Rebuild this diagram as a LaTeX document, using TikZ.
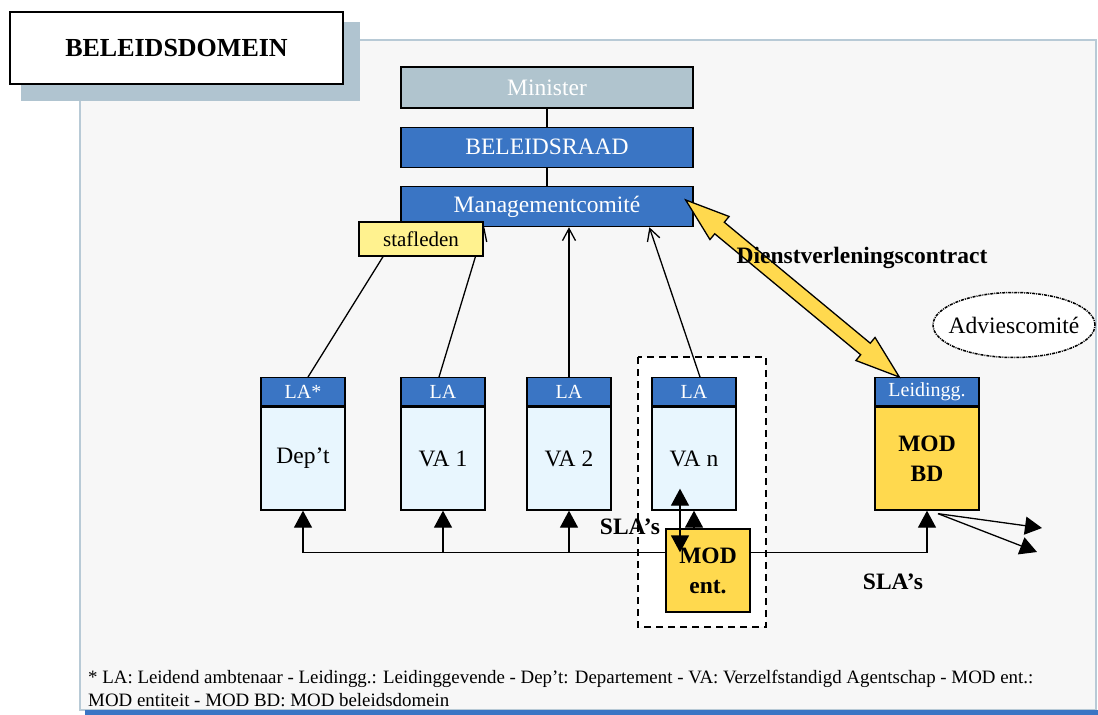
\documentclass[tikz,border=0pt]{standalone}
\usepackage{fontspec}
\setmainfont{Liberation Serif}
\usetikzlibrary{positioning,calc,arrows.meta,shapes.geometric}

\definecolor{boxblue}{HTML}{3A75C4}
\definecolor{mingrey}{HTML}{B0C4CE}
\definecolor{stafyellow}{HTML}{FFF28F}
\definecolor{modyellow}{HTML}{FFD94E}
\definecolor{agencyblue}{HTML}{E8F6FE}
\definecolor{panelgrey}{HTML}{F7F7F7}
\definecolor{panelline}{HTML}{B8CAD6}
\definecolor{shadowgrey}{HTML}{B0C4D0}

\begin{document}
\begin{tikzpicture}[x=1pt, y=-1pt,
bluebox/.style={rectangle, draw=black, line width=1.3pt, fill=boxblue, text=white, minimum width=292pt, minimum height=40pt, font=\fontsize{23.5}{26}\selectfont},
headbox/.style={rectangle, draw=black, line width=1.3pt, fill=boxblue, text=white, minimum width=84pt, minimum height=28pt, inner sep=0pt, font=\fontsize{20}{22}\selectfont},
agbody/.style={rectangle, draw=black, line width=1.3pt, fill=agencyblue, minimum width=84pt, minimum height=103pt, font=\fontsize{23.5}{26}\selectfont},
modbox/.style={rectangle, draw=black, line width=1.3pt, fill=modyellow, align=center, inner sep=0pt, font=\fontsize{23.5}{30}\selectfont\bfseries},
stafbox/.style={rectangle, draw=black, line width=1.3pt, fill=stafyellow, minimum width=124pt, minimum height=34pt, font=\fontsize{21}{24}\selectfont},
boldlabel/.style={font=\fontsize{23.5}{26}\selectfont\bfseries, inner sep=0pt},
notetext/.style={anchor=base west, inner sep=0pt, font=\fontsize{18.9}{23}\selectfont},
openarrow/.style={line width=1.3pt, -{Straight Barb[length=12pt,width=13pt]}},
uparrow/.style={line width=1.3pt, -{Triangle[length=17pt,width=18pt]}},
bothtri/.style={line width=1.3pt, {Triangle[length=17pt,width=18pt]}-{Triangle[length=17pt,width=18pt]}},
]
\useasboundingbox (0,0) rectangle (1098,715);

%Background
\draw[panelline, line width=1.5pt, fill=panelgrey] (80,40) rectangle (1096,710);
\fill[boxblue] (85,710) rectangle (1098,715);
\fill[shadowgrey] (21,22) rectangle (360,101);
\node[rectangle, draw=black, line width=1.5pt, fill=white, minimum width=333pt, minimum height=72pt,
      font=\fontsize{26}{28}\selectfont\bfseries] (title) at (176.5,48) {BELEIDSDOMEIN};
\draw[dash pattern=on 7pt off 5pt, line width=1.8pt, fill=white] (638,357) rectangle (766,627);

%Top nodes
\node[bluebox, fill=mingrey, minimum height=41pt] (minister) at (547,87.5) {Minister};
\node[bluebox, below=18pt of minister] (raad) {BELEIDSRAAD};
\node[bluebox, below=18pt of raad]     (mc)   {Managementcomité};
\draw[line width=1.3pt] (minister) -- (raad);
\draw[line width=1.3pt] (raad) -- (mc);

%Entities
\node[agbody] (dep) at (303,458.5) {Dep't};
\node[agbody] (va1) at (443,458.5) {VA 1};
\node[agbody] (va2) at (569,458.5) {VA 2};
\node[agbody] (van) at (694,458.5) {VA n};
\node[headbox, anchor=south] (depH) at (dep.north) {LA*};
\node[headbox, anchor=south] (va1H) at (va1.north) {LA};
\node[headbox, anchor=south] (va2H) at (va2.north) {LA};
\node[headbox, anchor=south] (vanH) at (van.north) {LA};
\node[modbox, minimum width=104pt, minimum height=103pt] (modbd) at (927,458.5) {MOD\\BD};
\node[headbox, minimum width=104pt, anchor=south] (modbdH) at (modbd.north) {Leidingg.};

%Lines to management
\draw[openarrow] ($(depH.north)+(5,0)$) -- ($(mc.south west)+(1,0)$);
\draw[openarrow] ($(va1H.north)+(-4,0)$) -- ($(mc.south west)+(84,0)$);
\draw[openarrow] (va2H.north) -- (va2H.north |- mc.south);
\draw[openarrow] ($(vanH.north)+(6,0)$) -- ($(mc.south west)+(249,0)$);
\node[stafbox] (staf) at (421,239) {stafleden};

%SLA lines
\draw[bothtri] (dep.south) -- ++(0,42) coordinate (bus) -| (modbd.south);
\draw[uparrow] (va1.south |- bus) -- (va1.south);
\draw[uparrow] (va2.south |- bus) -- (va2.south);
\node[modbox, minimum width=84pt, minimum height=83pt] (modent) at (708,570.5) {MOD\\ent.};
\draw[uparrow] (modent.north -| van.south) -- (van.south);
\draw[bothtri] ($(van.south)+(-14,-22)$) -- ($(modent.north)+(-28,24)$);
\node[boldlabel] (sla1) at (630,527) {SLA's};
\node[boldlabel] (sla2) at (893,582) {SLA's};
\coordinate (out1) at (1042,528);
\coordinate (out2) at (1037,552);
\draw[uparrow] ($(modbd.south)+(11,3)$) -- (out1);
\draw[uparrow] ($(modbd.south)+(11,3)$) -- (out2);

%Contract arrow
\coordinate (tipA) at ($(mc.north east)+(-8,14)$);
\coordinate (tipB) at ($(modbdH.north west)+(25,0)$);
\coordinate (dA) at ($(tipA)!44pt!(tipB)$);
\coordinate (dB) at ($(tipB)!44pt!(tipA)$);
\filldraw[fill=modyellow, draw=black, line width=1.3pt]
  (tipA) -- ($(dA)!15pt!90:(tipB)$) -- ($(dA)!7.5pt!90:(tipB)$) -- ($(dB)!7.5pt!-90:(tipA)$)
  -- ($(dB)!15pt!-90:(tipA)$) -- (tipB) -- ($(dB)!15pt!90:(tipA)$) -- ($(dB)!7.5pt!90:(tipA)$)
  -- ($(dA)!7.5pt!-90:(tipB)$) -- ($(dA)!15pt!-90:(tipB)$) -- cycle;
\node[boldlabel] (contract) at (862,258) {Dienstverleningscontract};
\node[ellipse, draw=black, line width=1.5pt, dash pattern=on 3pt off 1pt on 1pt off 1pt, fill=white,
      inner sep=0pt, minimum width=162pt, minimum height=65pt, font=\fontsize{23.5}{26}\selectfont] (advies) at (1014,325) {\makebox[100pt]{Adviescomité}};

%Footnote
\node[notetext] (note1) at (88,683) {* LA: Leidend ambtenaar - Leidingg.: Leidinggevende - Dep't: Departement - VA: Verzelfstandigd Agentschap - MOD ent.:};
\node[notetext] (note2) at (88,706) {MOD entiteit - MOD BD: MOD beleidsdomein};
\end{tikzpicture}
\end{document}
